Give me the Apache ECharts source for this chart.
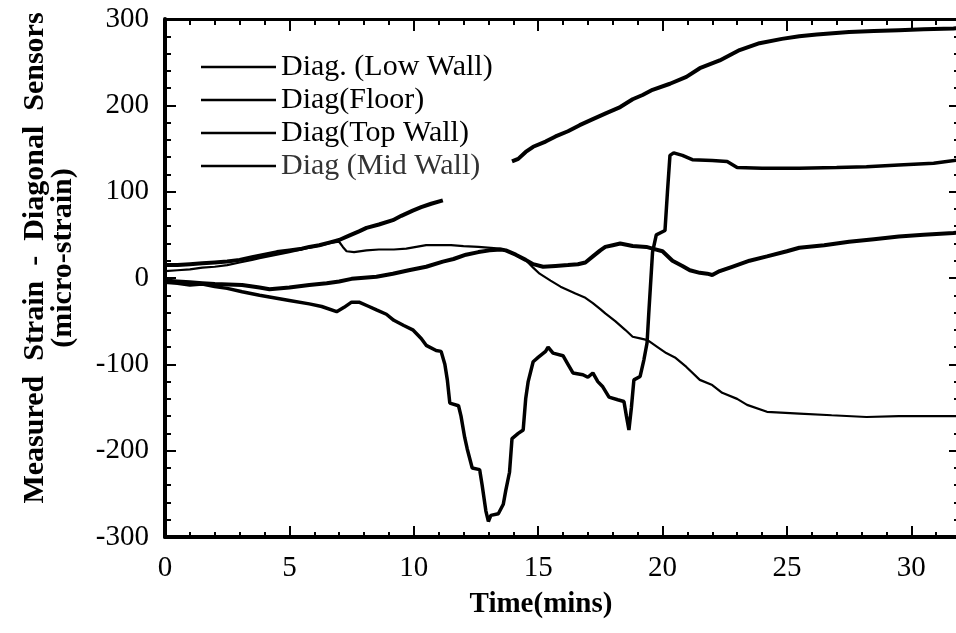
<!DOCTYPE html>
<html>
<head>
<meta charset="utf-8">
<script src="https://cdn.jsdelivr.net/npm/echarts@6/dist/echarts.min.js"></script>
<style>
html,body{margin:0;padding:0;background:#fff;}
#chart{width:956px;height:633px;}
</style>
</head>
<body>
<div id="chart"></div>
<script>
// ---- data (time in mins, strain in micro-strain) ----
const seriesNames = ['Diag. (Low Wall)', 'Diag(Floor)', 'Diag(Top Wall)', 'Diag (Mid Wall)'];
const xTickLabels = [0, 5, 10, 15, 20, 25, 30];
const yTickLabels = [-300, -200, -100, 0, 100, 200, 300];

const lowWall = [[0,-5],[0.5,-6],[1,-8],[1.5,-7],[2,-10],[2.5,-12],[3.1,-16],[3.8,-20],[4.2,-22],[5,-26],[5.8,-30],[6.3,-33],[6.9,-39],[7.2,-34],[7.5,-28],[7.8,-28],[8.2,-33],[8.5,-37],[8.9,-42],[9.2,-49],[9.6,-55],[9.96,-60],[10.3,-70],[10.5,-78],[10.9,-84],[11.1,-85],[11.25,-100],[11.35,-118],[11.45,-145],[11.8,-148],[11.9,-160],[12.05,-185],[12.15,-198],[12.35,-220],[12.65,-222],[12.75,-240],[12.9,-270],[13.0,-282],[13.1,-275],[13.4,-273],[13.6,-262],[13.7,-246],[13.85,-225],[13.95,-186],[14.2,-180],[14.4,-176],[14.5,-140],[14.6,-120],[14.8,-97],[15.0,-92],[15.3,-85],[15.4,-80],[15.6,-87],[16.0,-90],[16.2,-100],[16.4,-110],[16.8,-112],[17.0,-115],[17.2,-110],[17.4,-120],[17.6,-126],[17.85,-138],[18.2,-141],[18.45,-143],[18.55,-160],[18.65,-176],[18.75,-150],[18.85,-118],[19.1,-114],[19.25,-95],[19.38,-75],[19.45,-40],[19.6,30],[19.75,50],[20.1,55],[20.2,100],[20.3,142],[20.45,145],[20.8,142],[21.2,137],[22.0,136],[22.6,135],[23.0,128],[24,127],[25.5,127],[27,128],[28.2,129],[29.5,131],[30.9,133],[32,137]];

const floor = [[0,-3],[0.5,-4],[1,-5],[1.5,-6],[2,-7],[3.1,-8],[3.8,-11],[4.2,-13],[5,-11],[5.8,-8],[6.5,-6],[7.0,-4],[7.5,-1],[8.5,1.5],[9.16,5],[9.8,9],[10.5,13],[11.17,19],[11.6,22],[12.1,27],[12.6,30],[13.05,32],[13.5,33],[13.7,32],[14.1,27],[14.5,21],[14.8,16],[15.2,13],[15.7,14],[16.2,15],[16.6,16],[16.9,18],[17.2,25],[17.5,32],[17.7,36],[18.0,38],[18.3,40],[18.8,37],[19.35,36],[19.6,34],[20,31],[20.4,20],[20.8,14],[21.1,9],[21.5,6],[21.8,5],[22.0,3.5],[22.3,8],[22.8,13],[23.5,20],[24.2,25],[25.0,31],[25.5,35],[26.5,38],[27.5,42],[28.5,45],[29.5,48],[30.5,50],[31.7,52],[32,53]];

const topWall = [[0,15],[0.5,15],[1,16],[1.5,17],[2,18],[2.5,19],[3,21],[3.5,24],[4,27],[4.5,30],[5,32],[5.5,34],[5.8,36],[6.2,38],[6.6,41],[7,44],[7.4,49],[7.8,54],[8.1,58],[8.6,62],[9.16,67],[9.5,72],[9.96,78],[10.3,82],[10.7,86],[11.17,90],[12.5,null],[13.95,135],[14.2,138],[14.5,146],[14.8,152],[15.3,158],[15.7,164],[16.2,170],[16.67,177],[17.2,184],[17.74,191],[18.3,198],[18.8,207],[19.2,212],[19.6,218],[20.3,225],[20.96,233],[21.5,243],[22.3,252],[22.7,258],[23.1,264],[23.9,272],[24.8,277],[25.5,280],[26.2,282],[27.5,285],[28.5,286],[29.5,287],[30.5,288],[31.7,289],[32,290]];

const midWall = [[0,8],[0.5,9],[1,10],[1.5,12],[2,13],[2.5,15],[3,18],[3.5,21],[3.8,23],[4.5,27],[5,30],[5.8,35],[6.3,38],[6.7,41],[7.0,42],[7.15,36],[7.3,31],[7.6,30],[8.1,32],[8.6,33],[9.2,33],[9.7,34],[10.1,36],[10.5,38],[11,38],[11.5,38],[12,37],[12.6,36],[13.1,35],[13.45,34],[13.7,32],[14.0,28],[14.5,21],[14.8,12],[15.06,5],[15.5,-3],[15.9,-10],[16.5,-18],[16.9,-23],[17.2,-29],[17.5,-36],[17.7,-41],[18.1,-50],[18.5,-60],[18.8,-68],[19.1,-70],[19.4,-72],[19.8,-80],[20.15,-87],[20.5,-92],[20.96,-103],[21.5,-118],[22.0,-124],[22.4,-133],[23.0,-140],[23.4,-147],[24.2,-155],[25.5,-157],[26.8,-159],[28.2,-161],[29.5,-160],[31,-160],[32,-160]];

// ---- chart ----
const FONT = '"Liberation Serif", "Times New Roman", serif';
const gridPos = {left: 165, top: 19, right: -5, bottom: 96, containLabel: false, outerBoundsMode: 'none'};
const xMin = xTickLabels[0], xMax = 32;
const yMin = yTickLabels[0], yMax = yTickLabels[yTickLabels.length - 1];

function xAx(gridIndex, position, opts) {
  return Object.assign({
    type: 'value', gridIndex, position, min: xMin, max: xMax,
    splitLine: {show: false},
    axisLabel: {show: false},
    axisLine: {show: false, onZero: false},
    axisTick: {show: false}
  }, opts);
}
function yAx(gridIndex, position, opts) {
  return Object.assign({
    type: 'value', gridIndex, position, min: yMin, max: yMax, interval: 100,
    splitLine: {show: false},
    axisLabel: {show: false},
    axisLine: {show: false, onZero: false},
    axisTick: {show: false}
  }, opts);
}

const chart = echarts.init(document.getElementById('chart'), null, {renderer: 'canvas'});
const lineW = [3.5, 4, 4, 2.2];
const data = [lowWall, floor, topWall, midWall];

chart.setOption({
  animation: false,
  backgroundColor: '#fff',
  grid: [Object.assign({}, gridPos), Object.assign({}, gridPos)],
  legend: {
    orient: 'vertical', left: 196, top: 47, padding: 5,
    icon: 'rect', itemWidth: 75, itemHeight: 2.5, itemGap: 3,
    textStyle: {fontFamily: FONT, fontSize: 30, color: '#000', lineHeight: 30},
    data: seriesNames.map((n, i) => i === 3
      ? {name: n, textStyle: {color: '#333'}}
      : {name: n}),
    selectedMode: false
  },
  xAxis: [
    xAx(0, 'bottom', {
      interval: 5,
      name: 'Time(mins)', nameLocation: 'middle', nameGap: 53,
      nameTextStyle: {fontFamily: FONT, fontSize: 29, fontWeight: 'bold', color: '#000', padding: [0, 44, 0, 0]},
      axisLine: {show: true, onZero: false, lineStyle: {color: '#000', width: 4}},
      axisTick: {show: true, inside: true, length: 11, lineStyle: {color: '#000', width: 2}},
      axisLabel: {show: true, margin: 17, fontFamily: FONT, fontSize: 29, color: '#000', showMaxLabel: false}
    }),
    xAx(0, 'top', {
      interval: 5,
      axisLine: {show: true, onZero: false, lineStyle: {color: '#000', width: 3}},
      axisTick: {show: true, inside: true, length: 12, lineStyle: {color: '#000', width: 2}}
    }),
    xAx(1, 'bottom', {
      interval: 1,
      axisTick: {show: true, inside: true, length: 5, lineStyle: {color: '#000', width: 2}}
    }),
    xAx(1, 'top', {
      interval: 1,
      axisTick: {show: true, inside: true, length: 6, lineStyle: {color: '#000', width: 2}}
    })
  ],
  yAxis: [
    yAx(0, 'left', {
      name: 'Measured  Strain  -  Diagonal  Sensors\n(micro-strain)',
      nameLocation: 'middle', nameGap: 88, nameRotate: 90,
      nameTextStyle: {fontFamily: FONT, fontSize: 30, fontWeight: 'bold', color: '#000', lineHeight: 28, padding: [0, 0, 0, 40]},
      axisLine: {show: true, onZero: false, lineStyle: {color: '#000', width: 4}},
      axisTick: {show: true, inside: true, length: 11, lineStyle: {color: '#000', width: 2}},
      minorTick: {show: true, splitNumber: 5, length: 6, lineStyle: {color: '#000', width: 2}},
      axisLabel: {show: true, margin: 16, fontFamily: FONT, fontSize: 29, color: '#000'}
    }),
    yAx(0, 'right', {
      axisTick: {show: true, inside: true, length: 12, lineStyle: {color: '#000', width: 2}},
      minorTick: {show: true, splitNumber: 5, length: 7, lineStyle: {color: '#000', width: 2}}
    }),
    yAx(1, 'left', {})
  ],
  series: seriesNames.map((n, i) => ({
    name: n, type: 'line', xAxisIndex: 0, yAxisIndex: 0,
    data: data[i], symbol: 'none', showSymbol: false,
    connectNulls: false, clip: true,
    lineStyle: {color: '#000', width: lineW[i]},
    itemStyle: {color: '#000'}
  }))
});
</script>
</body>
</html>
